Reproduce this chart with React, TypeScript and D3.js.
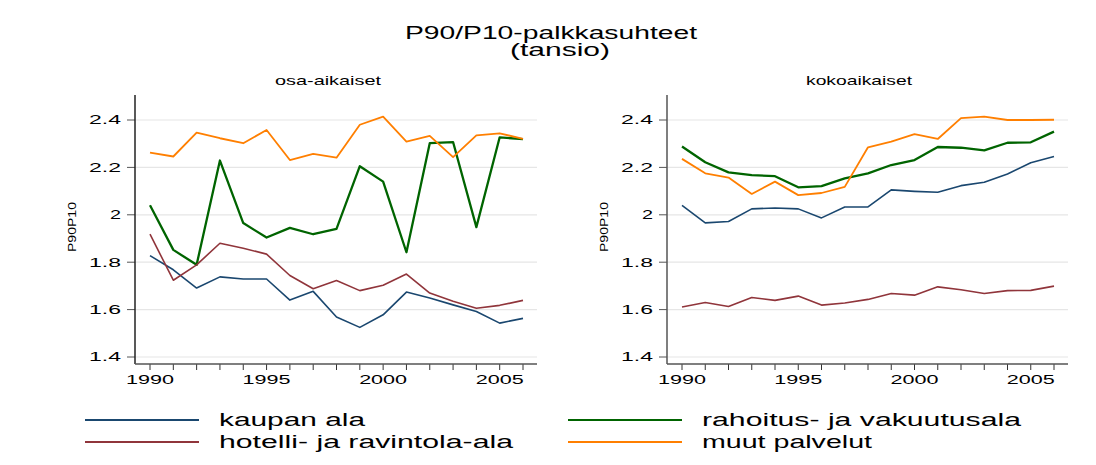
import React from "react";
import * as d3 from "d3";

const years = d3.range(1990, 2007);
const seriesNames = ["kaupan ala", "rahoitus- ja vakuutusala", "hotelli- ja ravintola-ala", "muut palvelut"];
const seriesColors = ["#1a476f", "#006400", "#90353b", "#ff7f00"];

// osa-aikaiset (part-time)
const ptKauppa = [1.828, 1.768, 1.691, 1.738, 1.729, 1.729, 1.640, 1.677, 1.569, 1.525, 1.578, 1.674, 1.649, 1.620, 1.592, 1.543, 1.563];
const ptRahoitus = [2.040, 1.852, 1.789, 2.229, 1.965, 1.904, 1.945, 1.918, 1.941, 2.205, 2.140, 1.842, 2.302, 2.307, 1.948, 2.327, 2.319];
const ptHotelli = [1.918, 1.724, 1.789, 1.880, 1.859, 1.834, 1.744, 1.688, 1.723, 1.680, 1.703, 1.750, 1.670, 1.635, 1.606, 1.618, 1.639];
const ptMuut = [2.262, 2.246, 2.347, 2.323, 2.302, 2.358, 2.231, 2.257, 2.241, 2.380, 2.414, 2.309, 2.333, 2.243, 2.335, 2.344, 2.320];

// kokoaikaiset (full-time)
const ftKauppa = [2.040, 1.966, 1.972, 2.025, 2.029, 2.025, 1.987, 2.033, 2.033, 2.105, 2.099, 2.095, 2.123, 2.137, 2.172, 2.220, 2.246];
const ftRahoitus = [2.288, 2.222, 2.179, 2.167, 2.163, 2.116, 2.121, 2.154, 2.175, 2.210, 2.231, 2.286, 2.283, 2.272, 2.304, 2.306, 2.351];
const ftHotelli = [1.611, 1.630, 1.613, 1.651, 1.639, 1.657, 1.619, 1.628, 1.643, 1.668, 1.661, 1.696, 1.684, 1.668, 1.680, 1.681, 1.699];
const ftMuut = [2.236, 2.175, 2.157, 2.088, 2.140, 2.083, 2.092, 2.118, 2.285, 2.309, 2.340, 2.320, 2.408, 2.414, 2.400, 2.400, 2.401];

const yTicks = [1.4, 1.6, 1.8, 2, 2.2, 2.4];
const xTickLabels = [1990, 1995, 2000, 2005];

const FONT = "'Liberation Sans', Arial, sans-serif";

function Panel({ title, axisX, x0, x1, right, data, axisColor, titleX }: any) {
  const x = d3.scaleLinear().domain([1990, 2006]).range([x0, x1]);
  const y = d3.scaleLinear().domain([1.4, 2.4]).range([357, 120]);
  const line = d3.line<number>().x((_, i) => x(years[i])).y((v) => y(v));
  const top = 95;
  const bottom = 364;
  const widths = [1.6, 2.3, 1.6, 1.8];
  return (
    <g>
      <text x={titleX} y={85} fontSize={13} fontFamily={FONT} textLength={106} lengthAdjust="spacingAndGlyphs">{title}</text>
      {yTicks.map((t) => {
        const lbl = t === 2 ? "2" : t.toFixed(1);
        return (
          <g key={t}>
            <line x1={axisX} x2={right} y1={y(t)} y2={y(t)} stroke="#e6e6e6" strokeWidth={1.2} />
            <line x1={axisX - 8} x2={axisX} y1={y(t)} y2={y(t)} stroke="#555" strokeWidth={1} />
            <text x={axisX - 14} y={y(t) + 4.3} textAnchor="end" fontSize={12.5} fontFamily={FONT}
              textLength={lbl.length === 1 ? 11 : 32} lengthAdjust="spacingAndGlyphs">{lbl}</text>
          </g>
        );
      })}
      {years.map((yr) => (
        <line key={yr} x1={x(yr)} x2={x(yr)} y1={bottom} y2={bottom + 6} stroke="#333" strokeWidth={1} />
      ))}
      {xTickLabels.map((yr) => (
        <text key={yr} x={x(yr) - 24} y={383.5} fontSize={12.5} fontFamily={FONT} textLength={48} lengthAdjust="spacingAndGlyphs">{yr}</text>
      ))}
      <line x1={axisX} x2={axisX} y1={top} y2={bottom} stroke={axisColor} strokeWidth={1.5} />
      <line x1={axisX} x2={right} y1={bottom} y2={bottom} stroke="#555" strokeWidth={1.5} />
      <text transform={`translate(${axisX - 59},${202}) rotate(-90)`} textAnchor="end" fontSize={11} fontFamily={FONT}
        textLength={50} lengthAdjust="spacingAndGlyphs">P90P10</text>
      {data.map((d: number[], i: number) => (
        <path key={i} d={line(d) || ""} fill="none" stroke={seriesColors[i]} strokeWidth={widths[i]} strokeLinejoin="round" />
      ))}
    </g>
  );
}

export default function App() {
  const legendRows = [
    [0, 1],
    [2, 3],
  ];
  const legendWidths = [146, 319, 294, 170];
  return (
    <svg width={1096} height={465} style={{ display: "block", marginTop: -8, marginLeft: -8 }} viewBox="0 0 1096 465">
      <rect width={1096} height={465} fill="#fff" />
      <text x={405} y={39} fontSize={17.5} fontFamily={FONT} textLength={292} lengthAdjust="spacingAndGlyphs">P90/P10-palkkasuhteet</text>
      <text x={510} y={56} fontSize={17.5} fontFamily={FONT} textLength={100} lengthAdjust="spacingAndGlyphs">(tansio)</text>
      <Panel title="osa-aikaiset" titleX={275} axisX={135} x0={150} x1={523} right={537} axisColor="#222"
        data={[ptKauppa, ptRahoitus, ptHotelli, ptMuut]} />
      <Panel title="kokoaikaiset" titleX={806} axisX={667} x0={682} x1={1054} right={1068} axisColor="#555"
        data={[ftKauppa, ftRahoitus, ftHotelli, ftMuut]} />
      {legendRows.map((row, r) =>
        row.map((si, c) => {
          const lx = c === 0 ? 85 : 568;
          const ly = 420 + r * 22;
          return (
            <g key={si}>
              <line x1={lx} x2={lx + 114} y1={ly} y2={ly} stroke={seriesColors[si]} strokeWidth={2.2} />
              <text x={lx + 134} y={ly + 6.3} fontSize={18} fontFamily={FONT}
                textLength={legendWidths[si]} lengthAdjust="spacingAndGlyphs">{seriesNames[si]}</text>
            </g>
          );
        })
      )}
    </svg>
  );
}
